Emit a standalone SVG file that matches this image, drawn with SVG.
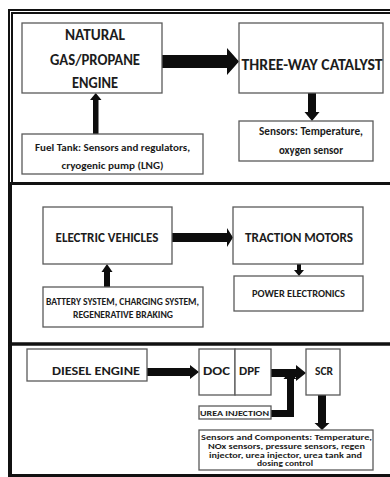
<svg xmlns="http://www.w3.org/2000/svg" width="390" height="477" viewBox="0 0 390 477">
<style>
.box{fill:#fff;stroke:#5a5a5a;stroke-width:1.3}
.t{font-family:Carlito,"Liberation Sans Narrow","Liberation Sans",sans-serif;font-weight:bold;fill:#1c1c1c;text-anchor:middle}
.frame{stroke:#111;fill:none}
.arr{fill:#0d0d0d}
</style>
<rect width="390" height="477" fill="#fff"/>
<g id="frame">
<line class="frame" x1="8" y1="10" x2="395" y2="10" stroke-width="2"/>
<line class="frame" x1="11" y1="13" x2="395" y2="13" stroke-width="2"/>
<line class="frame" x1="9" y1="9" x2="9" y2="183" stroke-width="2"/>
<line class="frame" x1="12" y1="12" x2="12" y2="183" stroke-width="2"/>
<line class="frame" x1="10" y1="183" x2="10" y2="477" stroke-width="4"/>
<line class="frame" x1="8" y1="183.5" x2="395" y2="183.5" stroke-width="3"/>
<line class="frame" x1="8" y1="344" x2="395" y2="344" stroke-width="3.5"/>
<line class="frame" x1="8" y1="475.5" x2="395" y2="475.5" stroke-width="3"/>
</g>
<g id="connectors">
<polygon class="arr" points="162,55 227,55 227,48 239,61.5 227,75 227,68 162,68"/>
<polygon class="arr" points="308,93 316,93 316,112 319.5,112 312,121 304.5,112 308,112"/>
<polygon class="arr" points="93,134 98.5,134 98.5,100 101.5,100 95.75,93 90,100 93,100"/>
<polygon class="arr" points="172,233 227,233 227,228 233,237.5 227,247 227,242 172,242"/>
<polygon class="arr" points="297,264 301,264 301,270 304,270 299,276 294,270 297,270"/>
<polygon class="arr" points="104,287 110,287 110,272 112.5,272 107,264 101.5,272 104,272"/>
<polygon class="arr" points="147,368 190,368 190,365 199,372 190,379 190,376 147,376"/>
<polygon class="arr" points="271,369 296,369 296,365 306,373 296,381 296,377 271,377"/>
<polygon class="arr" points="271,410 287,410 287,379 283.5,379 290,371 296.5,379 294,379 294,417 271,417"/>
<polygon class="arr" points="318,395 326,395 326,423 329.5,423 322,430 314.5,423 318,423"/>
</g>
<g id="engine">
<rect class="box" x="22" y="23" width="140" height="70"/>
<text class="t" x="95" y="40" font-size="15" textLength="60" lengthAdjust="spacingAndGlyphs">NATURAL</text>
<text class="t" x="95" y="65" font-size="15" textLength="90" lengthAdjust="spacingAndGlyphs">GAS/PROPANE</text>
<text class="t" x="95" y="88" font-size="15" textLength="46" lengthAdjust="spacingAndGlyphs">ENGINE</text>
</g>
<g id="catalyst">
<rect class="box" x="239" y="23" width="144" height="70"/>
<text class="t" x="312" y="70" font-size="15" textLength="141" lengthAdjust="spacingAndGlyphs">THREE-WAY CATALYST</text>
</g>
<g id="sensors1">
<rect class="box" x="239" y="121" width="134" height="40"/>
<text class="t" x="311" y="135" font-size="11" textLength="104" lengthAdjust="spacingAndGlyphs">Sensors: Temperature,</text>
<text class="t" x="311" y="154" font-size="11" textLength="64" lengthAdjust="spacingAndGlyphs">oxygen sensor</text>
</g>
<g id="fueltank">
<rect class="box" x="22" y="134" width="181" height="40"/>
<text class="t" x="112.5" y="151" font-size="10" textLength="155" lengthAdjust="spacingAndGlyphs">Fuel Tank: Sensors and regulators,</text>
<text class="t" x="112.5" y="169" font-size="10" textLength="102" lengthAdjust="spacingAndGlyphs">cryogenic pump (LNG)</text>
</g>
<g id="ev">
<rect class="box" x="43" y="207" width="129" height="57"/>
<text class="t" x="107" y="242" font-size="14" textLength="103" lengthAdjust="spacingAndGlyphs">ELECTRIC VEHICLES</text>
</g>
<g id="traction">
<rect class="box" x="233" y="207" width="130" height="57"/>
<text class="t" x="299" y="242" font-size="14" textLength="108" lengthAdjust="spacingAndGlyphs">TRACTION MOTORS</text>
</g>
<g id="power">
<rect class="box" x="234" y="276" width="129" height="35"/>
<text class="t" x="298.5" y="297" font-size="10.5" textLength="93" lengthAdjust="spacingAndGlyphs">POWER ELECTRONICS</text>
</g>
<g id="battery">
<rect class="box" x="43" y="287" width="160" height="40"/>
<text class="t" x="122.5" y="305" font-size="9" textLength="153" lengthAdjust="spacingAndGlyphs">BATTERY SYSTEM, CHARGING SYSTEM,</text>
<text class="t" x="123" y="318" font-size="9" textLength="100" lengthAdjust="spacingAndGlyphs">REGENERATIVE BRAKING</text>
</g>
<g id="diesel">
<rect class="box" x="27" y="349" width="120" height="32"/>
<text class="t" x="96" y="375" font-size="11" textLength="88" lengthAdjust="spacingAndGlyphs">DIESEL ENGINE</text>
</g>
<g id="doc">
<rect class="box" x="199" y="349" width="36" height="46"/>
<text class="t" x="216.5" y="375" font-size="11" textLength="27" lengthAdjust="spacingAndGlyphs">DOC</text>
</g>
<g id="dpf">
<rect class="box" x="235" y="349" width="36" height="46"/>
<text class="t" x="249.5" y="375" font-size="11" textLength="21" lengthAdjust="spacingAndGlyphs">DPF</text>
</g>
<g id="scr">
<rect class="box" x="306" y="349" width="34" height="46"/>
<text class="t" x="324" y="375" font-size="11" textLength="18" lengthAdjust="spacingAndGlyphs">SCR</text>
</g>
<g id="urea">
<rect class="box" x="199" y="406" width="72" height="13"/>
<text class="t" x="234.5" y="416" font-size="7.5" textLength="69" lengthAdjust="spacingAndGlyphs">UREA INJECTION</text>
</g>
<g id="sensors3">
<rect class="box" x="199" y="430" width="174" height="40"/>
<text class="t" x="286.5" y="440" font-size="8" textLength="171" lengthAdjust="spacingAndGlyphs">Sensors and Components: Temperature,</text>
<text class="t" x="286.5" y="449" font-size="8" textLength="157" lengthAdjust="spacingAndGlyphs">NOx sensors, pressure sensors, regen</text>
<text class="t" x="285.5" y="457.5" font-size="8" textLength="153" lengthAdjust="spacingAndGlyphs">injector, urea injector, urea tank and</text>
<text class="t" x="285" y="466" font-size="8" textLength="56" lengthAdjust="spacingAndGlyphs">dosing control</text>
</g>
</svg>
